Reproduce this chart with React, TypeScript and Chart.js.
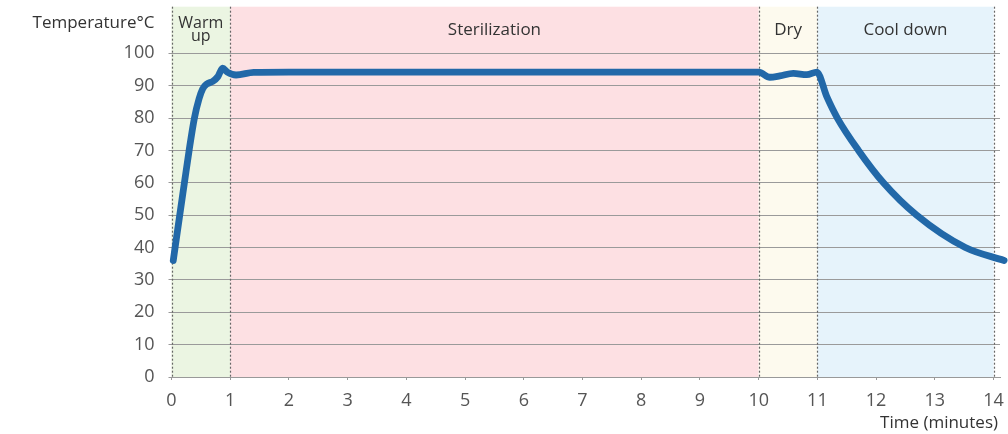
import React, { useEffect, useRef } from "react";
import { Chart, registerables } from "chart.js";

Chart.register(...registerables);

// Time (minutes) and temperature (°C)
const timeMinutes = [
  0.03, 0.14, 0.22, 0.3, 0.39, 0.47, 0.53, 0.6, 0.7, 0.79, 0.87, 0.95, 1.1, 1.4, 2, 10,
  10.19, 10.36, 10.59, 10.82, 10.99, 11.16, 11.34, 11.7, 12.125, 12.69, 13.52, 14.18,
];
const temperature = [
  36, 50, 60, 70, 80, 86, 89, 90.5, 91.3, 92.8, 95.4, 94.2, 93.3, 94.1, 94.2, 94.2,
  92.6, 93, 93.8, 93.4, 94.2, 86.6, 80, 70, 60, 50, 40, 36,
];

// Phases
const phaseStart = [0, 1, 10, 11];
const phaseEnd = [1, 10, 11, 14];
const phaseLabels: string[][] = [["Warm", "up"], ["Sterilization"], ["Dry"], ["Cool down"]];
const phaseColors = ["#ebf5e2", "#fde0e3", "#fdfaee", "#e6f3fb"];
const phaseBoundaries = [0, 1, 10, 11, 14];

const yAxisLabel = "Temperature°C";
const xAxisLabel = "Time (minutes)";

const FONT = "'Open Sans', 'DejaVu Sans', sans-serif";

const phasePlugin = {
  id: "phases",
  beforeDraw(chart: any) {
    const { ctx, chartArea, scales } = chart;
    const x = scales.x;
    ctx.save();
    phaseStart.forEach((s, i) => {
      const x0 = x.getPixelForValue(s);
      const x1 = x.getPixelForValue(phaseEnd[i]);
      ctx.fillStyle = phaseColors[i];
      ctx.fillRect(x0, chartArea.top, x1 - x0, chartArea.bottom - chartArea.top);
    });
    ctx.restore();
  },
  beforeDatasetsDraw(chart: any) {
    const { ctx, chartArea, scales } = chart;
    const x = scales.x;
    ctx.save();
    ctx.strokeStyle = "#666";
    ctx.lineWidth = 1.2;
    ctx.setLineDash([2, 2]);
    phaseBoundaries.forEach((b) => {
      const px = Math.round(x.getPixelForValue(b)) + 0.5;
      ctx.beginPath();
      ctx.moveTo(px, chartArea.top);
      ctx.lineTo(px, chartArea.bottom + 1);
      ctx.stroke();
    });
    ctx.restore();
  },
  afterDraw(chart: any) {
    const { ctx, chartArea, scales } = chart;
    const x = scales.x;
    ctx.save();
    ctx.fillStyle = "#333";
    ctx.textBaseline = "alphabetic";
    ctx.textAlign = "center";
    phaseLabels.forEach((lines, i) => {
      const cx = (x.getPixelForValue(phaseStart[i]) + x.getPixelForValue(phaseEnd[i])) / 2;
      if (lines.length === 1) {
        ctx.font = `17px ${FONT}`;
        ctx.fillText(lines[0], cx, 35);
      } else {
        ctx.font = `16px ${FONT}`;
        lines.forEach((l, j) => ctx.fillText(l, cx, 28.3 + j * 12.4));
      }
    });
    ctx.textAlign = "right";
    ctx.font = `17px ${FONT}`;
    ctx.fillText(yAxisLabel, 154.5, 28.3);
    ctx.fillText(xAxisLabel, chartArea.right - 2, 427.7);
    ctx.restore();
  },
};

export default function App() {
  const ref = useRef<HTMLCanvasElement | null>(null);
  useEffect(() => {
    if (!ref.current) return;
    const chart = new Chart(ref.current, {
      type: "line",
      data: {
        datasets: [
          {
            data: timeMinutes.map((t, i) => ({ x: t, y: temperature[i] })),
            borderColor: "#2268a8",
            borderWidth: 6.8,
            pointRadius: 0,
            cubicInterpolationMode: "monotone",
            borderCapStyle: "round",
            borderJoinStyle: "round",
            clip: false as any,
          },
        ],
      },
      options: {
        animation: false,
        responsive: true,
        maintainAspectRatio: false,
        layout: { padding: { left: 0, right: 8, top: 6.7, bottom: 0 } },
        plugins: { legend: { display: false }, tooltip: { enabled: false } },
        scales: {
          x: {
            type: "linear",
            min: 0,
            max: 14.11,
            afterFit(scale: any) {
              scale.height = 57;
              scale.paddingLeft = 0;
              scale.paddingRight = 0;
            },
            ticks: {
              stepSize: 1,
              includeBounds: false,
              color: "#555",
              font: { family: FONT, size: 18 },
              padding: 10,
              maxRotation: 0,
            },
            grid: { drawOnChartArea: false, drawTicks: true, tickLength: 3, color: "#999" },
            border: { display: true, color: "#999", width: 1 },
          },
          y: {
            min: 0,
            max: 114.4,
            afterFit(scale: any) {
              scale.width = 171.5;
              scale.paddingTop = 0;
              scale.paddingBottom = 0;
            },
            afterBuildTicks(scale: any) {
              scale.ticks = scale.ticks.filter((t: any) => t.value <= 100);
            },
            ticks: {
              stepSize: 10,
              includeBounds: false,
              color: "#555",
              font: { family: FONT, size: 18 },
              padding: 14,
            },
            grid: { color: "#9a9a9a", lineWidth: 1, tickLength: 3 },
            border: { display: false },
          },
        },
      },
      plugins: [phasePlugin],
    } as any);
    return () => chart.destroy();
  }, []);
  return (
    <div style={{ position: "fixed", left: 0, top: 0, width: 1008, height: 434, background: "#fff" }}>
      <canvas ref={ref} />
    </div>
  );
}
